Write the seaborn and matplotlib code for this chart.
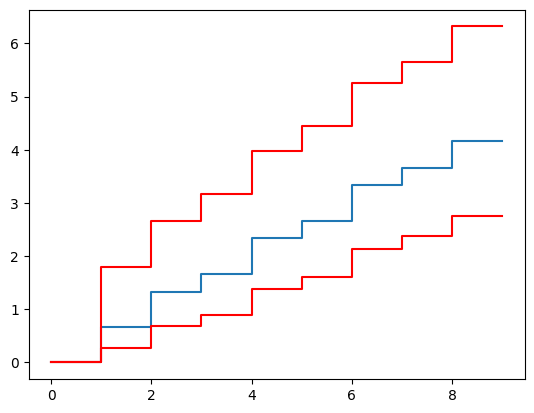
import pandas as pd
import seaborn as sns
import matplotlib
matplotlib.use("Agg")
import matplotlib.pyplot as plt

x = [0, 1, 2, 3, 4, 5, 6, 7, 8, 9]
mean = [0, 0.667, 1.333, 1.667, 2.333, 2.667, 3.333, 3.667, 4.167, 4.167]
upper = [0, 1.79, 2.67, 3.16, 3.98, 4.44, 5.25, 5.66, 6.32, 6.32]
lower = [0, 0.27, 0.68, 0.89, 1.385, 1.61, 2.14, 2.37, 2.75, 2.75]

df = pd.DataFrame({"x": x, "mean": mean, "upper": upper, "lower": lower})

fig, ax = plt.subplots(figsize=(6.4, 4.8), dpi=100)
sns.lineplot(data=df, x="x", y="mean", color="#1f77b4", drawstyle="steps-post", ax=ax)
sns.lineplot(data=df, x="x", y="upper", color="red", drawstyle="steps-post", ax=ax)
sns.lineplot(data=df, x="x", y="lower", color="red", drawstyle="steps-post", ax=ax)
ax.set_xlabel("")
ax.set_ylabel("")

plt.savefig("out.png", bbox_inches="tight")
